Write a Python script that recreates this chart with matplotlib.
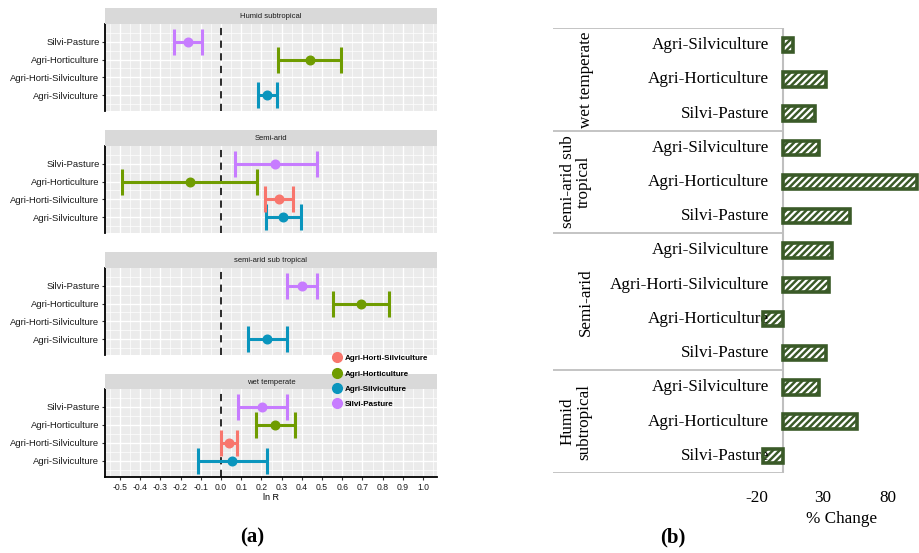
import numpy as np
import matplotlib
matplotlib.use("Agg")
import matplotlib.pyplot as plt
from matplotlib.lines import Line2D

# ---------------- data: panel (a) ----------------
zones_a = ["Humid subtropical", "Semi-arid", "semi-arid sub tropical", "wet temperate"]
systems = ["Agri-Silviculture", "Agri-Horti-Silviculture", "Agri-Horticulture", "Silvi-Pasture"]
sys_colors = {"Agri-Horti-Silviculture": "#F8766D", "Agri-Horticulture": "#6F9C00",
              "Agri-Silviculture": "#0A95BD", "Silvi-Pasture": "#C77CFF"}
legend_order = ["Agri-Horti-Silviculture", "Agri-Horticulture", "Agri-Silviculture", "Silvi-Pasture"]

# values in order of `systems` (AS, AHS, AH, SP); nan = not present
lnr_mean = {
    "Humid subtropical":      [0.229, np.nan, 0.440, -0.162],
    "Semi-arid":              [0.305, 0.287, -0.153, 0.267],
    "semi-arid sub tropical": [0.229, np.nan, 0.693, 0.400],
    "wet temperate":          [0.056, 0.041, 0.267, 0.205],
}
lnr_low = {
    "Humid subtropical":      [0.182, np.nan, 0.284, -0.231],
    "Semi-arid":              [0.221, 0.218, -0.489, 0.069],
    "semi-arid sub tropical": [0.132, np.nan, 0.553, 0.328],
    "wet temperate":          [-0.112, 0.000, 0.172, 0.083],
}
lnr_high = {
    "Humid subtropical":      [0.276, np.nan, 0.593, -0.093],
    "Semi-arid":              [0.396, 0.355, 0.180, 0.474],
    "semi-arid sub tropical": [0.325, np.nan, 0.832, 0.474],
    "wet temperate":          [0.226, 0.081, 0.366, 0.328],
}
x_ticks_a = [-0.5, -0.4, -0.3, -0.2, -0.1, 0.0, 0.1, 0.2, 0.3, 0.4, 0.5, 0.6, 0.7, 0.8, 0.9, 1.0]

# ---------------- data: panel (b) ----------------
zones_b = ["wet temperate", "semi-arid sub\ntropical", "Semi-arid", "Humid\nsubtropical"]
cats_b = [
    ["Agri-Silviculture", "Agri-Horticulture", "Silvi-Pasture"],
    ["Agri-Silviculture", "Agri-Horticulture", "Silvi-Pasture"],
    ["Agri-Silviculture", "Agri-Horti-Silviculture", "Agri-Horticulture", "Silvi-Pasture"],
    ["Agri-Silviculture", "Agri-Horticulture", "Silvi-Pasture"],
]
pct_change = [
    [7.4, 33.0, 24.5],
    [27.3, 102.4, 51.3],
    [37.5, 35.2, -15.1, 32.7],
    [27.3, 56.9, -15.6],
]
x_ticks_b = [-20, 30, 80]

# ---------------- figure ----------------
plt.rcParams["hatch.linewidth"] = 1.6
W, H = 919, 553
fig = plt.figure(figsize=(W / 100, H / 100), dpi=100)
fig.patch.set_facecolor("white")

def fx(px):
    return px / W

def fy(py):
    return 1 - py / H

sans = "Liberation Sans"
serif = "Liberation Serif"

panels = [(8, 24, 111), (130, 146, 233), (252, 268, 355), (374, 389, 477)]
PX0, PX1 = 105, 437
xlim_a = (-0.574, 1.069)

for i, zone in enumerate(zones_a):
    st, pt, pb = panels[i]
    ax = fig.add_axes([fx(PX0), fy(pb), fx(PX1 - PX0), (pb - pt) / H])
    ax.set_facecolor("#EBEBEB")
    ax.set_xlim(*xlim_a)
    ax.set_ylim(0.1, 5.0)
    ax.set_xticks(x_ticks_a)
    ax.set_xticks(np.arange(-0.55, 1.07, 0.1), minor=True)
    ax.set_yticks([1, 2, 3, 4])
    ax.set_yticks([0.5, 1.5, 2.5, 3.5, 4.5], minor=True)
    ax.grid(which="major", color="white", linewidth=1.0)
    ax.grid(which="minor", color="white", linewidth=0.5)
    ax.set_axisbelow(True)
    for s in ["top", "right", "bottom"]:
        ax.spines[s].set_visible(False)
    ax.spines["left"].set_color("black")
    ax.spines["left"].set_linewidth(1.3)
    ax.set_yticklabels(systems, fontsize=6.8, family=sans, color="#1A1A1A")
    ax.tick_params(axis="y", which="major", length=2.5, color="#333333", pad=1.5)
    ax.tick_params(axis="y", which="minor", length=0)
    ax.tick_params(axis="x", which="minor", length=0)
    if i == 3:
        ax.spines["bottom"].set_visible(True)
        ax.spines["bottom"].set_color("black")
        ax.spines["bottom"].set_linewidth(1.3)
        ax.set_xticklabels([f"{t:.1f}" for t in x_ticks_a], fontsize=6.2, family=sans, color="#1A1A1A")
        ax.tick_params(axis="x", which="major", length=2.5, color="#333333", pad=1.5)
        ax.set_xlabel("ln R", fontsize=6.5, family=sans, labelpad=1)
    else:
        ax.tick_params(axis="x", which="major", length=0, labelbottom=False)
    ax.axvline(0, color="#1A1A1A", linestyle=(0, (4, 3)), linewidth=1.3, zorder=2)
    means = lnr_mean[zone]
    lows = lnr_low[zone]
    highs = lnr_high[zone]
    for j, sname in enumerate(systems):
        m = means[j]
        if np.isnan(m):
            continue
        ax.errorbar([m], [j + 1], xerr=[[m - lows[j]], [highs[j] - m]], fmt="o",
                    color=sys_colors[sname], ms=6.2, elinewidth=2.2, capsize=9.4,
                    capthick=2.2, zorder=3)
    sax = fig.add_axes([fx(PX0), fy(pt), fx(PX1 - PX0), (pt - st) / H])
    sax.set_facecolor("#D9D9D9")
    sax.set_xticks([])
    sax.set_yticks([])
    for s in sax.spines.values():
        s.set_visible(False)
    sax.text(0.5, 0.45, zone, ha="center", va="center", fontsize=5.5, family=sans,
             color="#1A1A1A", transform=sax.transAxes)

handles = [Line2D([], [], marker="o", linestyle="none", color=sys_colors[s], ms=7)
           for s in legend_order]
fig.legend(handles, legend_order, loc="upper left", bbox_to_anchor=(fx(327), fy(349)),
           frameon=False, prop={"family": sans, "size": 5.8, "weight": "bold"},
           handletextpad=0.3, labelspacing=0.95, borderpad=0.2, handlelength=1.2)

fig.text(fx(252), fy(537), "(a)", ha="center", va="center", fontsize=15,
         family=serif, weight="bold")

# ---------------- panel (b) ----------------
BX0, BX1 = 553, 919
ZERO = 783
PPU = 1.306  # pixels per unit
xl = ((BX0 - ZERO) / PPU, (BX1 - ZERO) / PPU)
TOP, BOT = 28, 473
nrows = sum(len(c) for c in cats_b)
axb = fig.add_axes([fx(BX0), fy(BOT), fx(BX1 - BX0), (BOT - TOP) / H])
axb.set_xlim(*xl)
axb.set_ylim(nrows, 0)
for s in axb.spines.values():
    s.set_visible(False)
axb.set_yticks([])
axb.set_xticks(x_ticks_b)
axb.set_xticklabels([str(t) for t in x_ticks_b], fontsize=12.3, family=serif)
axb.tick_params(axis="x", length=0, pad=12)
axb.set_xlabel("% Change", fontsize=12.3, family=serif)
axb.xaxis.set_label_coords((842 - BX0) / (BX1 - BX0), -(511 - BOT) / (BOT - TOP))

bar_green = "#3A5A28"
line_gray = "#BFBFBF"
frac_zero = (ZERO - BX0) / (BX1 - BX0)
label_x = (769 - ZERO) / PPU

row = 0
bounds = [0]
for g, (zone, cats, vals) in enumerate(zip(zones_b, cats_b, pct_change)):
    start = row
    for c, v in zip(cats, vals):
        y = row + 0.5
        axb.barh(y, v, height=0.42, color=bar_green, edgecolor="white", hatch="/////",
                 linewidth=0, zorder=3)
        axb.barh(y, v, height=0.42, facecolor="none", edgecolor=bar_green, linewidth=2.6,
                 zorder=4)
        axb.text(label_x, y, c, ha="right", va="center", fontsize=12.3, family=serif)
        row += 1
    bounds.append(row)
    mid = (start + row) / 2
    gx = 586 if "\n" not in zone else 576
    axb.text((gx - ZERO) / PPU, mid, zone, ha="center", va="center", rotation=90,
             fontsize=12.3, family=serif, multialignment="center", linespacing=1.0)

for b in bounds:
    axb.axhline(b, xmin=0, xmax=frac_zero, color=line_gray, linewidth=1.3, zorder=1)
axb.axvline(0, color=line_gray, linewidth=1.5, zorder=2)

fig.text(fx(673), fy(537), "(b)", ha="center", va="center", fontsize=15,
         family=serif, weight="bold")

fig.savefig("out.png", dpi=100)
